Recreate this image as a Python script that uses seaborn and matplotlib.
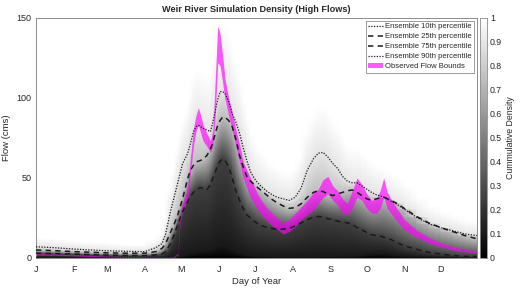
import numpy as np
import matplotlib
matplotlib.use('Agg')
import matplotlib.pyplot as plt
import seaborn as sns

days = [1, 15, 32, 46, 60, 74, 91, 100, 105, 108, 112, 115, 118, 120, 122, 124, 126, 128,
        131, 133, 135, 137, 139, 142, 145, 147, 149, 151, 153, 155, 157, 160, 163, 166, 169,
        172, 175, 178, 181, 184, 188, 192, 196, 200, 205, 210, 215, 220, 225, 230, 234, 238,
        242, 246, 250, 254, 258, 262, 266, 270, 274, 278, 282, 285, 288, 291, 294, 298, 305,
        315, 325, 335, 345, 355, 365]

p10 = [0.4, 0.4, 0.35, 0.3, 0.3, 0.3, 0.3, 0.3, 0.3, 0.4, 0.5, 0.6, 0.8, 1.0, 1.3, 1.7, 2.1, 2.6,
       3.3, 3.8, 4.2, 4.5, 4.6, 4.8, 5.2, 5.8, 6.5, 7.2, 7.8, 8.0, 7.6, 6.6, 5.3, 4.2, 3.3,
       2.6, 2.0, 1.6, 1.3, 1.1, 1.0, 0.9, 0.8, 0.8, 0.8, 0.8, 0.8, 0.8, 0.8, 0.8, 0.8, 0.9,
       0.9, 1.0, 1.0, 1.1, 1.1, 1.2, 1.4, 1.8, 2.2, 2.6, 2.9, 3.0, 3.0, 2.5, 2.2, 1.8, 1.3,
       1.0, 0.8, 0.7, 0.6, 0.5, 0.5]

p25 = [3.0, 2.8, 2.5, 2.1, 1.8, 1.6, 1.5, 2.0, 2.5, 4.0, 9.0, 14.5, 21, 25, 29, 32, 35, 38,
       41, 42.5, 43.5, 44, 43.5, 42.5, 46, 50, 54, 58, 60.5, 62, 61, 57, 50, 42, 36,
       31, 27, 25, 23, 21.5, 20, 19, 18.5, 18, 18, 18.5, 20, 22, 24, 25.5, 26, 25.5,
       24.5, 24, 23, 22.5, 22, 21, 19, 17.5, 16, 14.5, 14, 13.7, 13, 12, 11.5, 10, 7.5,
       5.5, 3.5, 2.5, 1.5, 1.0, 1.0]

p75 = [5.0, 4.6, 4.0, 3.6, 3.2, 3.0, 3.0, 4.0, 6.0, 9.0, 16, 21, 27, 32, 37, 43, 49, 54,
       58, 60, 60.5, 61, 62, 64, 68, 72, 78, 83, 86, 88, 88, 86, 82, 74, 64,
       57, 51, 48, 46, 44, 41.5, 39, 36.5, 34.5, 32.5, 31, 31.5, 34, 38, 41, 42, 41.5,
       40, 39, 40, 41, 42, 42.5, 41, 39, 37, 36, 37, 37.5, 38, 37, 36, 34.5, 31,
       26, 22, 19, 16.5, 14, 12]

p90 = [7.0, 6.5, 5.6, 5.0, 4.5, 4.2, 4.0, 6.5, 9.0, 15, 29, 38, 47, 53, 59, 62, 65, 70,
       79, 82, 83, 82, 81, 80, 79, 85, 92, 99, 104, 104, 103, 98, 90, 85, 78,
       69, 61, 54, 50, 47, 44, 41.5, 39.5, 38, 37, 36, 38, 44, 55, 62, 65.5, 66,
       63, 59, 56, 51, 48, 47, 47, 45, 43, 41, 39.5, 38.8, 38, 37, 35.5, 34, 30.5,
       25.5, 21.5, 19, 17, 15, 14]

obs_low = [1.8, 1.6, 1.3, 0.9, 0.5, 0.35, 0.2, 0.2, 0.2, 0.2, 0.2, 0.3, 1.5, 22, 29, 32, 36, 50,
           70, 79, 83, 78, 73, 70, 66, 70, 90, 122, 120, 110, 99, 89, 80, 70, 60,
           50, 44, 38, 34, 30, 26, 23, 20, 18, 15, 16.5, 19.5, 24, 27, 30, 34, 38,
           40, 36, 33, 28, 27, 31, 38, 36, 31, 28, 28, 31, 38, 31, 28, 24, 17.5,
           13, 9.5, 7, 5, 4, 3]

obs_high = [2.8, 2.5, 2.1, 1.6, 1.1, 0.9, 0.7, 0.6, 0.6, 0.6, 0.6, 0.9, 3.0, 27, 34, 38, 44, 59,
            81, 89, 94, 89, 83, 78, 73, 80, 112, 145, 140, 127, 112, 100, 91, 80, 71,
            60, 55, 50, 45, 40, 35, 31, 28, 25, 22, 24, 28, 32, 36, 41, 43, 49,
            51, 45, 42, 37, 34, 42, 50, 46, 40, 36, 37, 42, 50, 41, 37, 32, 24,
            17.5, 13, 9.5, 7, 5.5, 4.4]

month_days = [1, 32, 60, 91, 121, 152, 182, 213, 244, 274, 305, 335]
month_labels = ['J', 'F', 'M', 'A', 'M', 'J', 'J', 'A', 'S', 'O', 'N', 'D']

sns.set_theme(style='white')
plt.rcParams['font.family'] = ['Liberation Sans', 'DejaVu Sans']
plt.rcParams['text.color'] = '#262626'
plt.rcParams['axes.labelcolor'] = '#262626'
plt.rcParams['xtick.color'] = '#262626'
plt.rcParams['ytick.color'] = '#262626'

fig = plt.figure(figsize=(5.2, 2.93), dpi=100)
ax = fig.add_axes([0.0692, 0.1195, 0.8481, 0.8191])
cax = fig.add_axes([0.9235, 0.1195, 0.0135, 0.8191])

# cumulative density of the ensemble at each flow level
flows = np.linspace(0, 150, 451)
cdf = np.array([
    np.interp(flows, [0, a, b, c, d, d * 1.4 + 3], [0, 0.1, 0.25, 0.75, 0.9, 1.0])
    for a, b, c, d in zip(p10, p25, p75, p90)
]).T
mesh = ax.pcolormesh(days, flows, cdf, cmap='gray', vmin=0, vmax=1,
                     shading='gouraud', rasterized=True, zorder=1)

ax.fill_between(days, obs_low, obs_high, color='#ff00ff', alpha=0.65, lw=0,
                zorder=2, label='Observed Flow Bounds')

dotted = (0, (1, 1.2))
dashed = (0, (3.5, 2.8))
sns.lineplot(x=days, y=p10, ax=ax, color='k', lw=0.9, linestyle=dotted, zorder=3,
             label='Ensemble 10th percentile')
sns.lineplot(x=days, y=p25, ax=ax, color='k', lw=1.1, linestyle=dashed, zorder=3,
             label='Ensemble 25th percentile')
sns.lineplot(x=days, y=p75, ax=ax, color='k', lw=1.1, linestyle=dashed, zorder=3,
             label='Ensemble 75th percentile')
sns.lineplot(x=days, y=p90, ax=ax, color='k', lw=0.9, linestyle=dotted, zorder=3,
             label='Ensemble 90th percentile')

ax.set_xlim(1, 365)
ax.set_ylim(0, 150)
ax.set_xticks(month_days)
ax.set_xticklabels(month_labels)
ax.set_yticks([0, 50, 100, 150])
ax.tick_params(direction='in', length=3, width=0.6, labelsize=6.5, pad=3,
               top=True, right=True, bottom=True, left=True, colors='#262626')
ax.tick_params(axis='x', pad=5)
for s in ax.spines.values():
    s.set_visible(True)
    s.set_color('#8c8c8c')
    s.set_linewidth(0.7)

ax.set_xlabel('Day of Year', fontsize=6.8, labelpad=2)
ax.set_ylabel('Flow (cms)', fontsize=6.8, labelpad=4)
ax.set_title('Weir River Simulation Density (High Flows)', fontsize=6.6,
             fontweight='bold', pad=4)

handles, labels = ax.get_legend_handles_labels()
order = [labels.index(n) for n in ['Ensemble 10th percentile', 'Ensemble 25th percentile',
                                    'Ensemble 75th percentile', 'Ensemble 90th percentile',
                                    'Observed Flow Bounds']]
leg = ax.legend([handles[i] for i in order], [labels[i] for i in order],
                loc='upper right', fontsize=5.5, frameon=True, fancybox=False,
                framealpha=1, edgecolor='#8c8c8c', handlelength=2.0, handletextpad=0.3,
                borderpad=0.3, labelspacing=0.35, borderaxespad=0.35)
leg.get_frame().set_linewidth(0.6)

cb = fig.colorbar(mesh, cax=cax)
cb.set_ticks(np.arange(0, 1.01, 0.1))
cb.set_ticklabels(['0'] + [f'{v:.1f}' for v in np.arange(0.1, 0.95, 0.1)] + ['1'])
cb.ax.tick_params(direction='in', length=2, width=0.5, labelsize=6.3, pad=2, colors='#262626')
cb.outline.set_edgecolor('#8c8c8c')
cb.outline.set_linewidth(0.6)
cb.set_label('Cummulative Density', fontsize=6.3, labelpad=3)

fig.savefig('out.png', dpi=100)
